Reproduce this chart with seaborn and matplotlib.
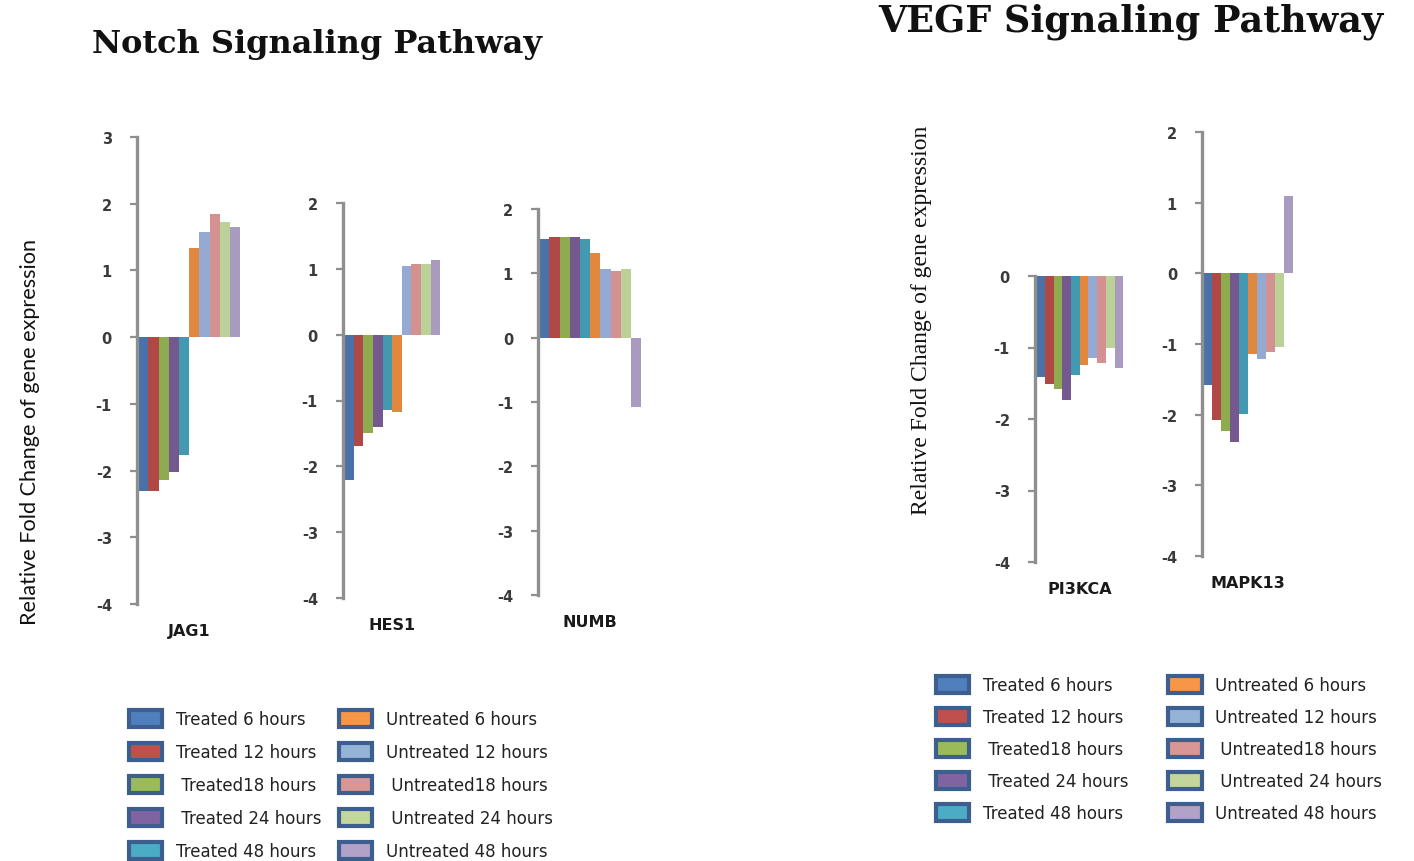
import matplotlib
matplotlib.use("Agg")
import matplotlib.pyplot as plt
from matplotlib.patches import Patch
import seaborn as sns
import pandas as pd

conditions = ["Treated 6 hours", "Treated 12 hours", "Treated18 hours",
              "Treated 24 hours", "Treated 48 hours", "Untreated 6 hours",
              "Untreated 12 hours", "Untreated18 hours", "Untreated 24 hours",
              "Untreated 48 hours"]
legend_labels = ["Treated 6 hours", "Treated 12 hours", " Treated18 hours",
                 " Treated 24 hours", "Treated 48 hours", "Untreated 6 hours",
                 "Untreated 12 hours", " Untreated18 hours", " Untreated 24 hours",
                 "Untreated 48 hours"]
colors = ["#4a72a8", "#b04946", "#8eab50", "#74598f", "#4399b0",
          "#e2873e", "#94aad2", "#d49191", "#bcd198", "#a99bc0"]
legend_colors = ["#4f7fbc", "#c0504d", "#9bbb59", "#8064a2", "#4bacc6",
                 "#f79646", "#95b3d7", "#d99694", "#c3d69b", "#b3a2c7"]

jag1 = [-2.30, -2.30, -2.14, -2.02, -1.76, 1.34, 1.57, 1.85, 1.72, 1.65]
hes1 = [-2.20, -1.69, -1.49, -1.40, -1.15, -1.17, 1.05, 1.07, 1.07, 1.14]
numb = [1.53, 1.57, 1.57, 1.57, 1.53, 1.31, 1.06, 1.04, 1.06, -1.07]
pi3kca = [-1.41, -1.51, -1.58, -1.74, -1.38, -1.24, -1.15, -1.21, -1.01, -1.29]
mapk13 = [-1.58, -2.08, -2.23, -2.39, -1.99, -1.14, -1.21, -1.12, -1.04, 1.09]

genes = ["JAG1", "HES1", "NUMB", "PI3KCA", "MAPK13"]
values = [jag1, hes1, numb, pi3kca, mapk13]
ylims = [(-4, 3), (-4, 2), (-4, 2), (-4, 0), (-4, 2)]

W, H = 1414, 862
# (left spine x, right x, top y, bottom y) in pixels
boxes = [(137, 242, 138, 605), (343, 442, 204, 599), (538, 643, 210, 596),
         (1035, 1125, 277, 563), (1202, 1295, 133, 557)]

sns.set_theme(style="white")
plt.rcParams["font.family"] = ["DejaVu Sans"]
plt.rcParams["axes.unicode_minus"] = False

fig = plt.figure(figsize=(W / 100, H / 100), dpi=100)

for gene, vals, yl, (x0, x1, yt, yb) in zip(genes, values, ylims, boxes):
    ax = fig.add_axes([x0 / W, 1 - yb / H, (x1 - x0) / W, (yb - yt) / H])
    df = pd.DataFrame({"gene": [gene] * len(conditions),
                       "condition": conditions, "value": vals})
    sns.barplot(data=df, x="gene", y="value", hue="condition",
                hue_order=conditions, palette=colors, saturation=1,
                width=0.8, linewidth=0, legend=False, ax=ax)
    ax.set_ylim(*yl)
    ax.set_xlim(-0.41, 0.415)
    ax.set_yticks(range(yl[0], yl[1] + 1))
    ax.set_xlabel("")
    ax.set_ylabel("")
    for s in ["top", "right", "bottom"]:
        ax.spines[s].set_visible(False)
    ax.spines["left"].set_color("#8f8f8f")
    ax.spines["left"].set_linewidth(2.4)
    ax.tick_params(axis="y", left=True, length=5, width=1.6, color="#8f8f8f",
                   pad=13, labelsize=10.5, labelcolor="#3a3a3a")
    ax.tick_params(axis="x", bottom=False, pad=8, labelsize=11.5)
    for t in ax.get_xticklabels():
        t.set_fontweight("bold")
        t.set_color("#1a1a1a")
    for t in ax.get_yticklabels():
        t.set_fontweight("bold")
    ax.patch.set_alpha(0)

fig.text(317 / W, 1 - 45 / H, "Notch Signaling Pathway", ha="center", va="center",
         family="DejaVu Serif", fontweight="bold", fontsize=23, color="#111111")
fig.text(1131 / W, 1 - 22 / H, "VEGF Signaling Pathway", ha="center", va="center",
         family="DejaVu Serif", fontweight="bold", fontsize=26.3, color="#111111")

fig.text(30 / W, 1 - 432 / H, "Relative Fold Change of gene expression",
         rotation=90, ha="center", va="center", family="Lato",
         fontsize=15.6, color="#111111")
fig.text(922 / W, 1 - 320 / H, "Relative Fold Change of gene expression",
         rotation=90, ha="center", va="center", family="Liberation Serif",
         fontsize=17, color="#111111")

handles = [Patch(facecolor=c, edgecolor="#3d5f8f", linewidth=3) for c in legend_colors]
leg_kw = dict(ncol=2, frameon=False, fontsize=12, handlelength=2.0,
              handleheight=1.15, handletextpad=0.8,
              borderaxespad=0, borderpad=0, labelcolor="#222222")
fig.legend(handles, legend_labels, loc="upper left",
           bbox_to_anchor=(129 / W, 1 - 711 / H), labelspacing=0.9,
           columnspacing=1.06, **leg_kw)
fig.legend(handles, legend_labels, loc="upper left",
           bbox_to_anchor=(936 / W, 1 - 677 / H), labelspacing=0.84,
           columnspacing=2.4, **leg_kw)

fig.savefig("out.png", dpi=100)
